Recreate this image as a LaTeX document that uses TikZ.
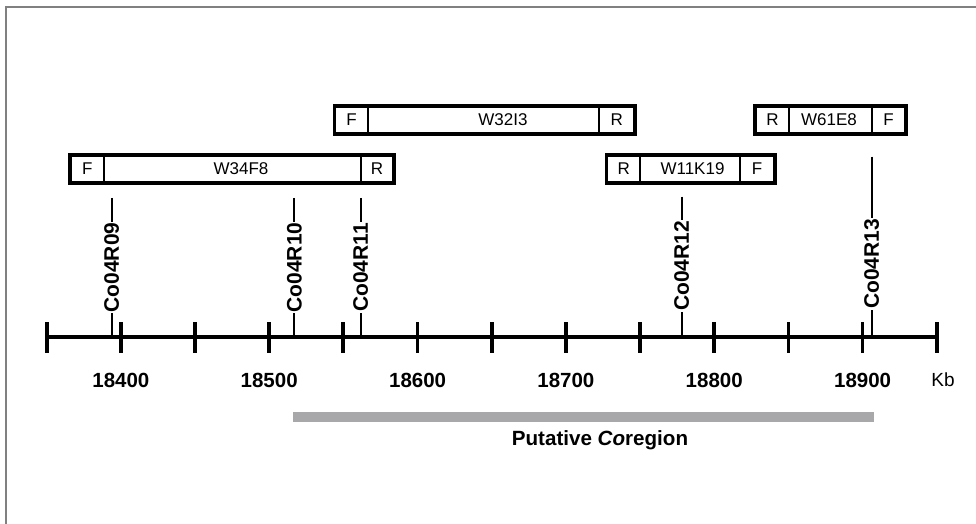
\documentclass[tikz,border=0pt]{standalone}
\usepackage{fontspec}
\setmainfont{Liberation Sans}
\usepackage[svgnames]{xcolor}
\usepackage{tikz}
\usetikzlibrary{backgrounds}
\pgfdeclarelayer{edgelayer}
\pgfdeclarelayer{nodelayer}
\pgfsetlayers{edgelayer,nodelayer,main}
\definecolor{framegray}{rgb}{0.5,0.5,0.5}
\definecolor{regiongray}{rgb}{0.66,0.66,0.67}
\tikzstyle{none}=[inner sep=0pt]
\tikzstyle{cell}=[rectangle,draw=black,line width=2.2,minimum height=26.6,inner sep=0pt,font=\fontsize{17}{20}\selectfont]
\tikzstyle{outline}=[draw=black,line width=2.8]
\tikzstyle{clonename}=[inner sep=0pt,font=\fontsize{17}{20}\selectfont]
\tikzstyle{marker}=[rotate=90,fill=white,inner sep=1pt,font=\bfseries\fontsize{21}{24}\selectfont]
\tikzstyle{markerline}=[line width=1.7]
\tikzstyle{kblabel}=[inner sep=0pt,font=\bfseries\fontsize{20.5}{24}\selectfont]
\tikzstyle{axisline}=[line width=3.8]
\tikzstyle{tickmark}=[line width=3.8]

\begin{document}
\begin{tikzpicture}[x=1pt,y=1pt]
	\useasboundingbox (0,0) rectangle (976,524);
	\begin{pgfonlayer}{nodelayer}
		% clones, upper row
		\node [style=cell, minimum width=33.3] (W32I3F) at (351.65,404) {F};
		\node [style=cell, minimum width=231] (W32I3M) at (483.8,404) {};
		\node [style=cell, minimum width=34.7] (W32I3R) at (616.65,404) {R};
		\node [style=clonename] (W32I3) at (503,404) {W32I3};
		\node [style=cell, minimum width=33.6] (W61E8R) at (772.5,404) {R};
		\node [style=cell, minimum width=83] (W61E8M) at (830.8,404) {};
		\node [style=cell, minimum width=32.7] (W61E8F) at (888.65,404) {F};
		\node [style=clonename] (W61E8) at (829,404) {W61E8};
		% clones, lower row
		\node [style=cell, minimum width=33.3] (W34F8F) at (87.35,355) {F};
		\node [style=cell, minimum width=256.7] (W34F8M) at (232.35,355) {};
		\node [style=cell, minimum width=32.6] (W34F8R) at (377,355) {R};
		\node [style=clonename] (W34F8) at (241,355) {W34F8};
		\node [style=cell, minimum width=32.7] (W11K19R) at (623.65,355) {R};
		\node [style=cell, minimum width=100] (W11K19M) at (690,355) {};
		\node [style=cell, minimum width=34] (W11K19F) at (757,355) {F};
		\node [style=clonename] (W11K19) at (692.5,355) {W11K19};

		% markers
		\node [style=marker] (R09) at (111.7,256.5) {Co04R09};
		\node [style=marker] (R10) at (294.3,256.5) {Co04R10};
		\node [style=marker] (R11) at (360.7,256.5) {Co04R11};
		\node [style=marker] (R12) at (681.7,258) {Co04R12};
		\node [style=marker] (R13) at (871.7,260) {Co04R13};
		\coordinate (R09top) at (111.7,326);
		\coordinate (R10top) at (294.3,326);
		\coordinate (R11top) at (360.7,326);
		\coordinate (R12top) at (681.7,327.3);
		\coordinate (R13top) at (871.7,367.3);
		\coordinate (R09base) at (111.7,187);
		\coordinate (R10base) at (294.3,187);
		\coordinate (R11base) at (360.7,187);
		\coordinate (R12base) at (681.7,187);
		\coordinate (R13base) at (871.7,187);

		% scale
		\coordinate (axisL) at (46.7,187);
		\coordinate (axisR) at (936.7,187);
		\foreach \x/\kb in {120.9/18400, 269.2/18500, 417.6/18600, 565.9/18700, 714.2/18800, 862.6/18900}
			\node [style=kblabel] (kb\kb) at (\x,144) {\kb};
		\node [style=none, font=\fontsize{19}{22}\selectfont] (kb) at (943,144) {Kb};

		% putative region
		\node [style=none, fill=regiongray, minimum width=581, minimum height=10] (coregion) at (583.5,107.3) {};
		\node [style=none, font=\bfseries\fontsize{20.6}{24}\selectfont] (coregionlabel) at (600,84) {Putative {\itshape Co}region};
	\end{pgfonlayer}
	\begin{pgfonlayer}{edgelayer}
		\draw [draw=framegray, line width=2] (6,0) -- (6,516.7) -- (976,516.7);
		\draw [style=outline] (W32I3F.north west) rectangle (W32I3R.south east);
		\draw [style=outline] (W61E8R.north west) rectangle (W61E8F.south east);
		\draw [style=outline] (W34F8F.north west) rectangle (W34F8R.south east);
		\draw [style=outline] (W11K19R.north west) rectangle (W11K19F.south east);
		\draw [style=markerline] (R09top) -- (R09base);
		\draw [style=markerline] (R10top) -- (R10base);
		\draw [style=markerline] (R11top) -- (R11base);
		\draw [style=markerline] (R12top) -- (R12base);
		\draw [style=markerline] (R13top) -- (R13base);
		\draw [style=axisline] (axisL) -- (axisR);
		\foreach \i in {0,...,12}
			\draw [style=tickmark] (46.7+74.17*\i,171) -- (46.7+74.17*\i,202);
	\end{pgfonlayer}
\end{tikzpicture}
\end{document}
